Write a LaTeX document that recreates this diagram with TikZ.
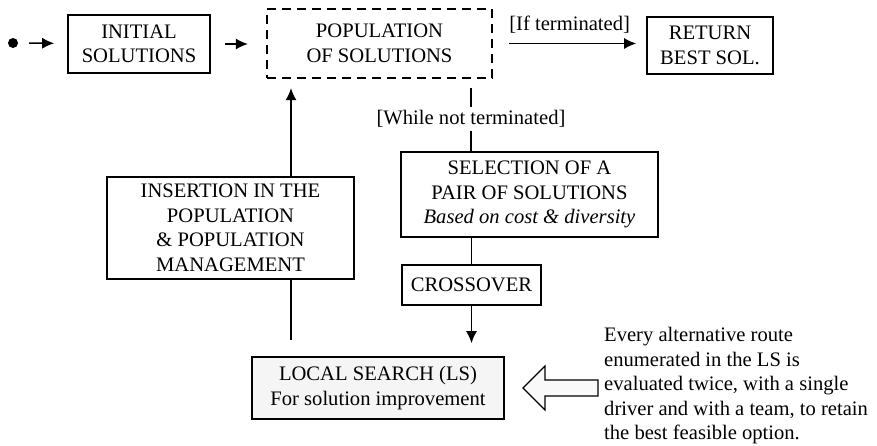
\documentclass[tikz,border=0pt]{standalone}
\usepackage{fontspec}
\setmainfont{Liberation Serif}
\usetikzlibrary{arrows.meta}

\begin{document}
\begin{tikzpicture}[x=1pt,y=1pt,
    every node/.style={font=\fontsize{20.6}{24.5}\selectfont, inner sep=0pt},
    box/.style={draw, line width=1.6pt, align=center},
    popbox/.style={draw, line width=2.2pt, dash pattern=on 9pt off 6pt, align=center},
    conn/.style={line width=1.5pt},
    arr/.style={conn, -{Latex[length=12pt,width=11pt]}}]
    \useasboundingbox (0,0) rectangle (877,-445);
    \coordinate     (col) at (291,0);
    \node[circle, fill, minimum size=10pt]     (start) at (13,-43) {};
    \node[box, minimum width=142pt, minimum height=58pt]     (init) at (139,-44) {INITIAL\\SOLUTIONS};
    \node[popbox, minimum width=225pt, minimum height=69pt]     (pop) at (379.5,-43.5) {POPULATION\\OF SOLUTIONS};
    \node[box, minimum width=126pt, minimum height=57pt]     (ret) at (710,-45.5) {RETURN\\BEST SOL.};
    \node[inner sep=3pt]     (whilelbl) at (471,-119) {[While not terminated]};
    \node[box, minimum width=257pt, minimum height=85pt]     (sel) at (529.5,-194.5) {SELECTION OF A\\PAIR OF SOLUTIONS\\\textit{Based on cost \& diversity}};
    \node[box, minimum width=139pt, minimum height=40pt]     (cross) at (471.5,-285) {CROSSOVER};
    \node[box, minimum width=247pt, minimum height=102pt]     (ins) at (230.5,-228) {INSERTION IN THE\\POPULATION\\\& POPULATION\\MANAGEMENT};
    \node[box, fill=gray!8, minimum width=252pt, minimum height=62pt]     (ls) at (378,-388) {LOCAL SEARCH (LS)\\For solution improvement};
    \node[anchor=west, align=left]     (note) at (604,-386) {Every alternative route\\enumerated in the LS is\\evaluated twice, with a single\\driver and with a team, to retain\\the best feasible option.};
    \draw[line width=1.2pt, fill=gray!5]     (523,-388) -- (545,-366) -- (545,-380) -- (598,-380) -- (598,-396) -- (545,-396) -- (545,-410) -- cycle;
    \draw[arr, shorten <=11pt, shorten >=13pt]     (start) -- (init);
    \draw[arr, shorten <=14pt, shorten >=18pt]     (init) -- (init -| pop.west);
    \draw[arr, shorten <=16pt, shorten >=10pt]     (pop.east) -- (pop.east -| ret.west) node[midway, above=9pt] {[If terminated]};
    \draw[conn, shorten <=9pt]     (pop.south -| whilelbl) -- (whilelbl);
    \draw[conn]     (whilelbl) -- (whilelbl |- sel.north);
    \draw[conn]     (sel.south -| cross) -- (cross);
    \draw[arr, shorten >=13pt]     (cross) -- (cross |- ls.north);
    \draw[conn, shorten <=16pt]     (ls.north -| col) -- (ins.south -| col);
    \draw[arr, shorten >=9pt]     (ins.north -| col) -- (pop.south -| col);
\end{tikzpicture}
\end{document}
